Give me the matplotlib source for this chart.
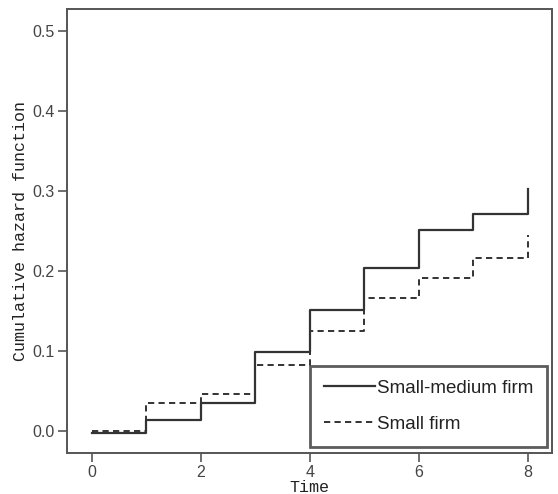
import matplotlib
matplotlib.use("Agg")
import matplotlib.pyplot as plt

# cumulative hazard at each whole time point (step function, jumps at t)
times = [0, 1, 2, 3, 4, 5, 6, 7, 8]
small_medium = [-0.002, 0.014, 0.035, 0.099, 0.151, 0.204, 0.252, 0.271, 0.303]
small = [0.0, 0.035, 0.047, 0.083, 0.125, 0.166, 0.192, 0.217, 0.245]

x_ticks = [0, 2, 4, 6, 8]
y_ticks = [0.0, 0.1, 0.2, 0.3, 0.4, 0.5]

ink = "#333333"
frame = "#555555"

fig = plt.figure(figsize=(5.58, 4.94), dpi=100)
ax = fig.add_axes([0.1195, 0.0836, 0.8692, 0.8982])

ax.step(times, small, where="post", color=ink, lw=1.4, ls=(0, (3.2, 2.2)),
        label="Small firm", zorder=2)
ax.step(times, small_medium, where="post", color=ink, lw=1.6,
        label="Small-medium firm", zorder=3)

ax.set_xlim(-0.46, 8.44)
ax.set_ylim(-0.027, 0.528)
ax.set_xticks(x_ticks)
ax.set_yticks(y_ticks)
ax.set_yticklabels([f"{v:.1f}" for v in y_ticks])
ax.tick_params(direction="out", length=6.5, width=1.2, color=frame,
               labelcolor="#444444", labelsize=11.5)
ax.tick_params(axis="x", pad=2)
ax.tick_params(axis="y", pad=2)
for lab in ax.get_xticklabels() + ax.get_yticklabels():
    lab.set_family("Liberation Sans")
for sp in ax.spines.values():
    sp.set_color(frame)
    sp.set_linewidth(1.4)

ax.set_xlabel("Time", family="Liberation Mono", fontsize=12, color="#222222",
              labelpad=0)
ax.set_ylabel("Cumulative hazard function", family="Liberation Mono",
              fontsize=12, color="#222222", labelpad=3)

handles, labels = ax.get_legend_handles_labels()
leg = ax.legend(handles[::-1], labels[::-1], loc="lower right",
                bbox_to_anchor=(0.991, 0.0135), borderaxespad=0,
                fancybox=False, handlelength=2.7, handletextpad=0.1,
                borderpad=0.75, labelspacing=1.0,
                prop={"family": "Liberation Sans", "size": 13.5})
leg.get_frame().set_edgecolor("#333333")
leg.get_frame().set_linewidth(2.0)
for t in leg.get_texts():
    t.set_color("#222222")

fig.savefig("out.png", dpi=100)
